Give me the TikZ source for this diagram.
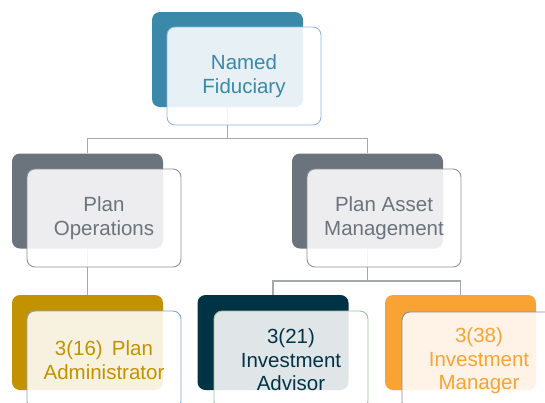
\documentclass[tikz,border=0pt]{standalone}
\usepackage{fontspec}
\setmainfont{Liberation Sans}
\definecolor{cTeal}{HTML}{3A89A8}
\definecolor{cGray}{HTML}{6B737C}
\definecolor{cGold}{HTML}{C39200}
\definecolor{cNavy}{HTML}{023345}
\definecolor{cOrange}{HTML}{F9A335}
\definecolor{cLine}{HTML}{A5A8AC}
\definecolor{bTeal}{HTML}{8FB5DE}
\definecolor{bGray}{HTML}{8E9196}
\definecolor{bBlue}{HTML}{7FA6D6}
\definecolor{bGreen}{HTML}{9CC0A0}
\definecolor{bPurple}{HTML}{8B8B9E}
\tikzset{
  backbox/.style={rectangle, rounded corners=8pt, minimum width=151pt, minimum height=95pt, inner sep=0pt, draw=none},
  frontbox/.style={rectangle, rounded corners=8pt, minimum width=154pt, minimum height=98pt, inner sep=0pt, fill=white, fill opacity=0.88, text opacity=1, line width=0.9pt, align=center, font=\fontsize{20.5}{23.5}\selectfont},
  conn/.style={draw=cLine, line width=1.3pt}
}
\begin{document}
\begin{tikzpicture}[x=1pt,y=-1pt]
\useasboundingbox (0,0) rectangle (545,402);
\clip (0,0) rectangle (545,402);
% back boxes
\node[backbox, fill=cTeal] (nfB) at (227.5,59.5) {};
\node[backbox, fill=cGray] (poB) at (87.5,201) {};
\node[backbox, fill=cGray] (pamB) at (367.5,201) {};
\node[backbox, fill=cGold] (paB) at (87.5,342.5) {};
\node[backbox, fill=cNavy] (iaB) at (273,342.5) {};
\node[backbox, fill=cOrange] (imB) at (460.5,342.5) {};
% connectors
\coordinate (bus1) at (227.5,138.5);
\coordinate (bus2) at (367.5,281);
\draw[conn] (nfB.south) -- (bus1);
\draw[conn] (bus1) -| (poB.north);
\draw[conn] (bus1) -| (pamB.north);
\draw[conn] (poB.south) -- (paB.north);
\draw[conn] (pamB.south) -- (bus2);
\draw[conn] (bus2) -| (iaB.north);
\draw[conn] (bus2) -| (imB.north);
% front boxes
\node[frontbox, draw=bTeal, text=cTeal] (nf) at (244,76) {Named\\Fiduciary};
\node[frontbox, draw=bGray, text=cGray] (po) at (104,218) {Plan\\Operations};
\node[frontbox, draw=bGray, text=cGray] (pam) at (384,218) {Plan Asset\\Management};
\node[frontbox, draw=bBlue, text=cGold] (pa) at (104,360) {3(16)\hspace{0.45em}Plan\\Administrator};
\node[frontbox, draw=bGreen, text=cNavy] (ia) at (291,360) {3(21)\\Investment\\Advisor};
\node[frontbox, draw=bPurple, text=cOrange] (im) at (479,361) {3(38)\\Investment\\Manager};
\end{tikzpicture}
\end{document}
